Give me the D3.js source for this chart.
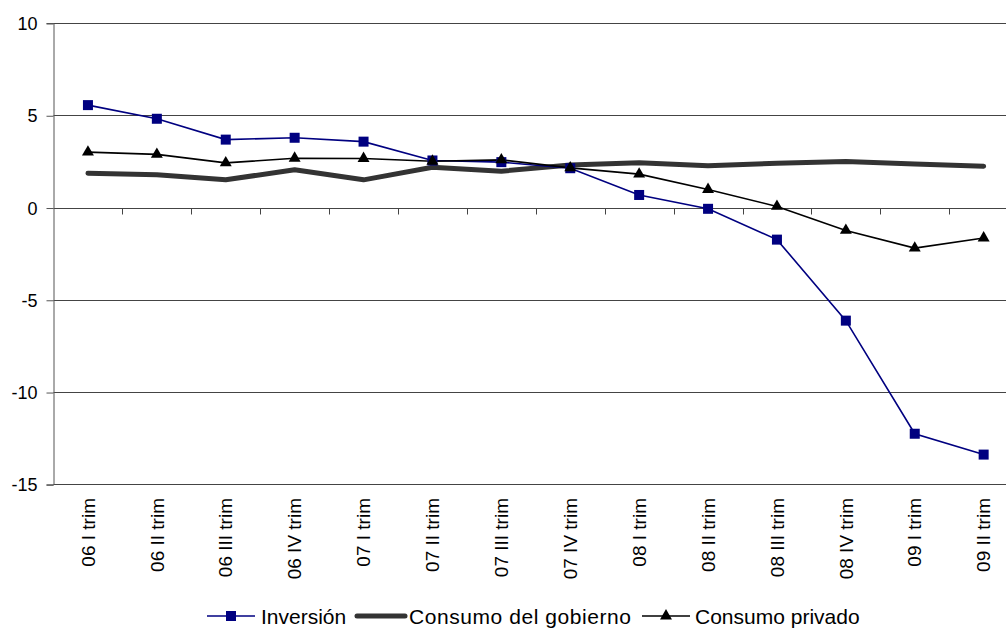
<!DOCTYPE html>
<html><head><meta charset="utf-8">
<script src="https://cdn.jsdelivr.net/npm/d3@7"></script>
<style>
html,body{margin:0;padding:0;background:#fff;}
svg{display:block;font-family:"Liberation Sans",Arial,sans-serif;}
</style></head>
<body>
<svg id="chart" width="1006" height="629"></svg>
<script>
const categories = ["06 I trim","06 II trim","06 III trim","06 IV trim","07 I trim","07 II trim","07 III trim","07 IV trim","08 I trim","08 II trim","08 III trim","08 IV trim","09 I trim","09 II trim"];
const inversion = [5.55, 4.81, 3.68, 3.78, 3.57, 2.55, 2.46, 2.13, 0.68, -0.07, -1.74, -6.13, -12.26, -13.39];
const consumoGobierno = [1.86, 1.77, 1.5, 2.05, 1.5, 2.18, 1.97, 2.3, 2.42, 2.26, 2.4, 2.5, 2.36, 2.24];
const consumoPrivado = [3.0, 2.88, 2.42, 2.67, 2.66, 2.51, 2.58, 2.15, 1.81, 0.98, 0.06, -1.24, -2.2, -1.65];
const yTicks = [10, 5, 0, -5, -10, -15];
const legendLabels = ["Inversión", "Consumo del gobierno", "Consumo privado"];

const svg = d3.select("#chart");
const x = d3.scaleBand().domain(categories).range([53.5, 1018.1]).padding(0);
const y = d3.scaleLinear().domain([-15, 10]).range([484.3, 23]);
const cx = c => x(c) + x.bandwidth() / 2;

// gridlines
svg.append("g").selectAll("line").data(yTicks).join("line")
  .attr("x1", 53.5).attr("x2", 1006)
  .attr("y1", d => Math.round(y(d)) + 0.5).attr("y2", d => Math.round(y(d)) + 0.5)
  .attr("stroke", "#444").attr("stroke-width", 1);

// y axis
const yAxis = svg.append("g").attr("transform", "translate(53.5,0)")
  .call(d3.axisLeft(y).tickValues(yTicks).tickSize(7).tickPadding(9).tickFormat(d3.format("d")));
yAxis.select(".domain").attr("stroke", "#555");
yAxis.selectAll(".tick line").attr("stroke", "#555").attr("transform", "translate(0,0.5)");
yAxis.selectAll(".tick text").attr("font-size", 18).attr("fill", "#000")
  .attr("font-family", "'Liberation Sans',Arial,sans-serif").attr("dy", "0.36em");
yAxis.selectAll(".tick text").text(d => d < 0 ? "-" + Math.abs(d) : d);

// x axis at zero: tick marks between categories
const y0 = Math.round(y(0)) + 0.5;
svg.append("g").selectAll("line").data(categories.slice(1)).join("line")
  .attr("x1", d => Math.round(x(d)) + 0.5).attr("x2", d => Math.round(x(d)) + 0.5)
  .attr("y1", y0).attr("y2", y0 + 6).attr("stroke", "#444");

// x labels (rotated)
svg.append("g").selectAll("text").data(categories).join("text")
  .attr("transform", d => `translate(${cx(d)},498) rotate(-90)`)
  .attr("text-anchor", "end").attr("dy", "0.35em")
  .attr("font-size", 19).attr("fill", "#000").text(d => d);

// lines
const line = d3.line().x((d, i) => cx(categories[i])).y(d => y(d));
svg.append("path").datum(consumoGobierno).attr("d", line)
  .attr("fill", "none").attr("stroke", "#333").attr("stroke-width", 5)
  .attr("stroke-linejoin", "round").attr("stroke-linecap", "round");
svg.append("path").datum(inversion).attr("d", line)
  .attr("fill", "none").attr("stroke", "#000080").attr("stroke-width", 1.6);
svg.append("path").datum(consumoPrivado).attr("d", line)
  .attr("fill", "none").attr("stroke", "#000").attr("stroke-width", 1.6);

// markers
const sq = 10;
svg.append("g").selectAll("rect").data(inversion).join("rect")
  .attr("x", (d, i) => cx(categories[i]) - sq / 2).attr("y", d => y(d) - sq / 2)
  .attr("width", sq).attr("height", sq).attr("fill", "#000080");
const tri = d3.symbol().type(d3.symbolTriangle).size(62);
svg.append("g").selectAll("path").data(consumoPrivado).join("path")
  .attr("d", tri)
  .attr("transform", (d, i) => `translate(${cx(categories[i])},${y(d)})`)
  .attr("fill", "#000");

// legend
const lg = svg.append("g");
const ly = 616;
lg.append("line").attr("x1", 207).attr("x2", 255).attr("y1", ly).attr("y2", ly).attr("stroke", "#000080").attr("stroke-width", 1.6);
lg.append("rect").attr("x", 231 - sq / 2).attr("y", ly - sq / 2).attr("width", sq).attr("height", sq).attr("fill", "#000080");
lg.append("text").attr("x", 261).attr("y", ly).attr("dy", "0.36em").attr("font-size", 21).text(legendLabels[0]);
lg.append("line").attr("x1", 357).attr("x2", 405).attr("y1", ly).attr("y2", ly).attr("stroke", "#333").attr("stroke-width", 5).attr("stroke-linecap", "round");
lg.append("text").attr("x", 409).attr("y", ly).attr("dy", "0.36em").attr("font-size", 21).attr("textLength", 222).text(legendLabels[1]);
lg.append("line").attr("x1", 642).attr("x2", 690).attr("y1", ly).attr("y2", ly).attr("stroke", "#000").attr("stroke-width", 1.6);
lg.append("path").attr("d", tri).attr("transform", `translate(666,${ly})`).attr("fill", "#000");
lg.append("text").attr("x", 695).attr("y", ly).attr("dy", "0.36em").attr("font-size", 21).text(legendLabels[2]);
</script>
</body></html>
